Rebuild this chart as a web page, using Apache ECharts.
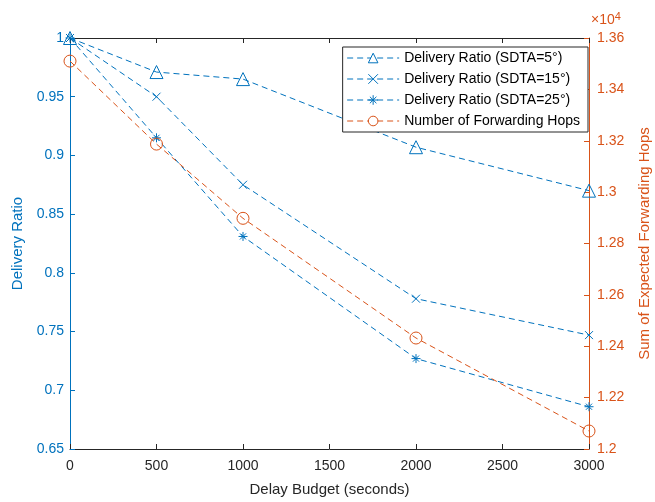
<!DOCTYPE html>
<html><head><meta charset="utf-8">
<script src="https://cdn.jsdelivr.net/npm/echarts@6/dist/echarts.min.js"></script>
<style>html,body{margin:0;padding:0;background:#fff}#c{width:655px;height:502px}</style>
</head><body><div id="c"></div>
<script>
const delays = [0, 500, 1000, 2000, 3000];
const ratioSDTA5 = [1.0, 0.971, 0.965, 0.907, 0.870];
const ratioSDTA15 = [1.0, 0.950, 0.875, 0.778, 0.747];
const ratioSDTA25 = [1.0, 0.915, 0.831, 0.727, 0.686];
const forwardingHops = [13510, 13187, 12898, 12432, 12070];
const xTicks = [0, 500, 1000, 1500, 2000, 2500, 3000];

const BLUE = '#0072BD', ORANGE = '#D95319', AX = '#262626';
const font = 'Liberation Sans, Arial, Helvetica, sans-serif';
const pair = (xs, ys) => xs.map((x, i) => [x, ys[i]]);
const X_PATH = 'path://M0,0L10,10M10,0L0,10';
const AST_PATH = 'path://M5,0L5,10M0,5L10,5M1.6,1.6L8.4,8.4M8.4,1.6L1.6,8.4';

function line(name, data, color, symbol, size, yIdx) {
  return {
    name, type: 'line', data, yAxisIndex: yIdx, xAxisIndex: 0,
    symbol, symbolSize: size, showAllSymbol: true,
    lineStyle: { color, width: 1, type: [6, 4] },
    itemStyle: { color: 'rgba(0,0,0,0)', borderColor: color, borderWidth: 1 },
    emphasis: { disabled: true }, animation: false
  };
}

const chart = echarts.init(document.getElementById('c'));
chart.setOption({
  backgroundColor: '#fff',
  animation: false,
  textStyle: { fontFamily: font },
  grid: { left: 70, right: 66, top: 38, bottom: 53, containLabel: false, outerBoundsMode: 'none' },
  legend: {
    orient: 'vertical', right: 67, top: 47,
    backgroundColor: '#fff', borderColor: '#262626', borderWidth: 1,
    padding: [4, 8, 4, 4], itemGap: 7, itemWidth: 52, itemHeight: 12,
    textStyle: { fontSize: 14, color: '#000', fontFamily: font },
    itemStyle: { color: '#fff', borderWidth: 1 },
    lineStyle: { width: 1, type: [6, 4] },
    data: ['Delivery Ratio (SDTA=5°)', 'Delivery Ratio (SDTA=15°)', 'Delivery Ratio (SDTA=25°)', 'Number of Forwarding Hops']
  },
  xAxis: [{
    type: 'value', min: 0, max: 3000, interval: 500, position: 'bottom',
    name: 'Delay Budget (seconds)', nameLocation: 'middle', nameGap: 33,
    nameTextStyle: { fontSize: 15, color: AX },
    axisLine: { onZero: false, lineStyle: { color: AX } },
    axisTick: { inside: true, length: 5, lineStyle: { color: AX } },
    axisLabel: { fontSize: 14, color: AX, margin: 10, formatter: v => String(v) },
    splitLine: { show: false }
  }, {
    type: 'value', min: 0, max: 3000, interval: 500, position: 'top',
    axisLine: { onZero: false, lineStyle: { color: AX } },
    axisTick: { inside: true, length: 5, lineStyle: { color: AX } },
    axisLabel: { show: false }, splitLine: { show: false }
  }],
  yAxis: [{
    type: 'value', min: 0.65, max: 1, interval: 0.05, position: 'left',
    name: 'Delivery Ratio', nameLocation: 'middle', nameGap: 44,
    nameTextStyle: { fontSize: 15, color: BLUE },
    axisLine: { show: true, onZero: false, lineStyle: { color: BLUE } },
    axisTick: { show: true, inside: true, length: 5, lineStyle: { color: BLUE } },
    axisLabel: { fontSize: 14, color: BLUE, margin: 6, formatter: v => String(parseFloat(v.toFixed(2))) },
    splitLine: { show: false }
  }, {
    type: 'value', min: 12000, max: 13600, interval: 200, position: 'right',
    name: 'Sum of Expected Forwarding Hops', nameLocation: 'middle', nameGap: 48, nameRotate: 90,
    nameTextStyle: { fontSize: 15, color: ORANGE },
    axisLine: { show: true, onZero: false, lineStyle: { color: ORANGE } },
    axisTick: { show: true, inside: true, length: 5, lineStyle: { color: ORANGE } },
    axisLabel: { fontSize: 14, color: ORANGE, margin: 8, formatter: v => String(parseFloat((v / 1e4).toFixed(2))) },
    splitLine: { show: false }
  }],
  graphic: [{
    type: 'text', left: 591, top: 11,
    style: {
      text: '{a|×10}{b|4}', fill: ORANGE,
      rich: { a: { fontSize: 14, fill: ORANGE, fontFamily: font }, b: { fontSize: 11, fill: ORANGE, verticalAlign: 'top', padding: [0, 0, 8, 0], fontFamily: font } }
    }
  }],
  series: [
    line('Delivery Ratio (SDTA=5°)', pair(delays, ratioSDTA5), BLUE, 'triangle', 13, 0),
    line('Delivery Ratio (SDTA=15°)', pair(delays, ratioSDTA15), BLUE, X_PATH, 8, 0),
    line('Delivery Ratio (SDTA=25°)', pair(delays, ratioSDTA25), BLUE, AST_PATH, 9, 0),
    line('Number of Forwarding Hops', pair(delays, forwardingHops), ORANGE, 'circle', 12, 1)
  ]
});
</script></body></html>
